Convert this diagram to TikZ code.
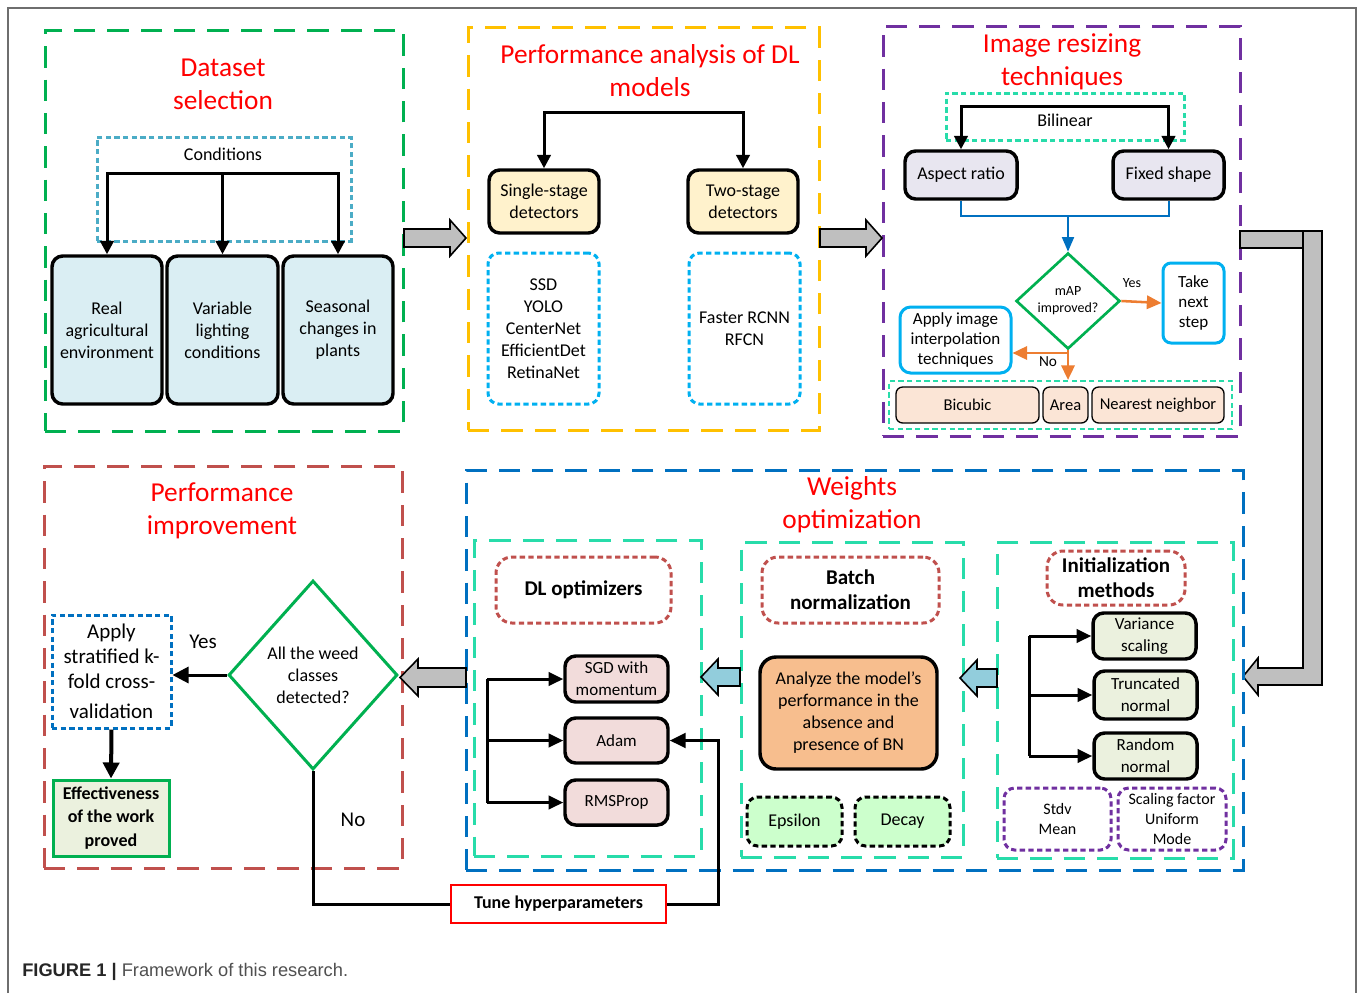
\documentclass[tikz,border=0pt]{standalone}
\usepackage{fontspec}
\setmainfont{Carlito}
\newfontfamily\capfont{Liberation Sans}
\usetikzlibrary{arrows.meta,shapes.geometric}
\definecolor{cGreen}{HTML}{00B050}
\definecolor{cYellow}{HTML}{FFC000}
\definecolor{cPurple}{HTML}{7030A0}
\definecolor{cBrick}{HTML}{C0504D}
\definecolor{cBlue}{HTML}{0070C0}
\definecolor{cTeal}{RGB}{40,220,170}
\definecolor{cCond}{HTML}{4BACC6}
\definecolor{cCyan}{HTML}{00B0F0}
\definecolor{cTitle}{HTML}{FF0000}
\definecolor{fBlue}{HTML}{DAEEF3}
\definecolor{fYellow}{HTML}{FFF2CC}
\definecolor{fLav}{RGB}{232,230,240}
\definecolor{fPeach}{HTML}{FBE5D6}
\definecolor{fGreen}{HTML}{EBF1DE}
\definecolor{fPink}{HTML}{F2DCDB}
\definecolor{fOrange}{RGB}{247,190,142}
\definecolor{fMint}{HTML}{CCFFCC}
\definecolor{fGray}{HTML}{BFBFBF}
\definecolor{fSky}{HTML}{92CDDC}
\definecolor{cOrange}{HTML}{ED7D31}
\definecolor{cFrame}{RGB}{110,110,110}
\definecolor{cCap}{RGB}{80,80,80}
\newcommand\myTitle{\fontsize{20.5}{24.75}\selectfont}
\newcommand\myNorm{\fontsize{13.5}{16.5}\selectfont}
\newcommand\myMid{\fontsize{12.75}{16.5}\selectfont}
\newcommand\myTake{\fontsize{12.75}{15.25}\selectfont}
\newcommand\mySmall{\fontsize{12.4}{15}\selectfont}
\newcommand\myBold{\fontsize{15.75}{19}\selectfont\bfseries}
\newcommand\myBoldS{\fontsize{13.5}{17.5}\selectfont\bfseries}
\newcommand\myTiny{\fontsize{10.5}{12.75}\selectfont}
\newcommand\myBig{\fontsize{15.75}{18.75}\selectfont}
\newcommand\myStdv{\fontsize{12}{15}\selectfont}
\newcommand\bx[7][]{%
  \node[inner sep=0pt, align=center, minimum width={(#5-#3)*0.75pt},
        minimum height={(#6-#4)*0.75pt}, #1] (#2) at ({(#3+#5)/2},{(#4+#6)/2}) {#7};}
\begin{document}
\begin{tikzpicture}[x=0.75pt,y=-0.75pt,
  >={Triangle[length=9pt,width=9pt]},
  every node/.style={inner sep=0pt, align=center},
  conn/.style={line width=2.25pt, black},
  grpd/.style={draw, line width=2.25pt, dash pattern=on 16pt off 9pt},
  dotd/.style={draw, line width=2.25pt, dash pattern=on 4pt off 2.5pt},
  solidbox/.style={draw, line width=2.6pt, rounded corners=8pt},
  thinbox/.style={draw, line width=1pt, rounded corners=5pt},
  title/.style={text=cTitle, font=\myTitle},
  blockarrow/.style={draw, line width=1.2pt, line join=miter},
  orng/.style={draw=cOrange, line width=1.9pt, >={Triangle[length=11pt,width=10pt]}},
]
\useasboundingbox (0,0) rectangle (1358,993);
% outer frame
\draw[cFrame, line width=1.2pt] (8,993) -- (8,8) -- (1356,8) -- (1356,993);

% ---------- Panel 1: Dataset selection
\bx[grpd, draw=cGreen]{g1}{45}{30}{403}{431}{}
\node[title] (t1) at (223,84) {Dataset\\selection};
\bx[dotd, draw=cCond]{gcond}{97}{137}{351}{241}{}
\node[font=\myNorm] (cond) at (223,154) {Conditions};
\bx[solidbox, fill=fBlue, font=\myNorm]{r1}{52}{256}{162}{404}{Real\\agricultural\\environment}
\bx[solidbox, fill=fBlue, font=\myNorm]{r2}{167}{256}{278}{404}{Variable\\lighting\\conditions}
\bx[solidbox, fill=fBlue, font=\myNorm]{r3}{283}{256}{393}{404}{Seasonal\\changes in\\plants}
\coordinate (cbar) at (222.5,173);
\draw[conn,<->,>={Triangle[length=10pt,width=10pt]}] (r1.north) |- (cbar) -| (r3.north);
\draw[conn,->,>={Triangle[length=10pt,width=10pt]}] (cbar) -- (r2.north);

% ---------- Panel 2: Performance analysis
\bx[grpd, draw=cYellow]{g2}{468}{27}{819}{430}{}
\node[title] (t2) at (650,71) {Performance analysis of DL\\models};
\bx[solidbox, fill=fYellow, font=\myNorm]{ss}{489}{170}{599}{233}{Single-stage\\detectors}
\bx[solidbox, fill=fYellow, font=\myNorm]{ts}{688}{170}{798}{233}{Two-stage\\detectors}
\coordinate (pbar) at (643,112);
\draw[conn,<->,>={Triangle[length=10pt,width=10pt]}] (ss.north) |- (pbar) -| (ts.north);
\bx[dotd, draw=cCyan, rounded corners=8pt, font=\myNorm]{sl}{488}{253}{599}{404}{SSD\\YOLO\\CenterNet\\EfficientDet\\RetinaNet}
\bx[dotd, draw=cCyan, rounded corners=8pt, font=\myNorm]{tl}{689}{253}{800}{404}{Faster RCNN\\RFCN}

% ---------- Panel 3: Image resizing
\bx[grpd, draw=cPurple]{g3}{883}{26}{1240}{436}{}
\node[title] (t3) at (1062,62) {Image resizing\\techniques};
\bx[dotd, draw=cTeal]{gbil}{946}{93}{1184}{140}{}
\node[font=\myNorm] (bil) at (1065,120) {Bilinear};
\bx[solidbox, fill=fLav, font=\myNorm]{ar}{905}{151}{1017}{199}{Aspect ratio}
\bx[solidbox, fill=fLav, font=\myNorm]{fs}{1113}{151}{1224}{199}{Fixed shape}
\coordinate (bbar) at (1065,106);
\draw[conn,<->,>={Triangle[length=10pt,width=10pt]}] (ar.north) |- (bbar) -| (fs.north);
\node[diamond, draw=cGreen, line width=2pt, minimum width=78pt, minimum height=72pt, font=\myTiny] (map) at (1068,301) {mAP\\improved?};
\coordinate (bj) at (1068,216);
\draw[cBlue, line width=1.5pt] (ar.south) |- (bj) -| (fs.south);
\draw[cBlue, line width=1.5pt, ->, >={Triangle[length=11pt,width=9pt]}] (bj) -- (map.north);
\bx[draw=cCyan, line width=2.25pt, rounded corners=6pt, font=\myTake]{take}{1163}{263}{1224}{343}{Take\\next\\step}
\bx[draw=cCyan, line width=2.25pt, rounded corners=8pt, font=\myTake]{apply}{900}{307}{1011}{373}{Apply image\\interpolation\\techniques}
\bx[dotd, draw=cTeal, line width=1.6pt]{interp}{889}{381}{1232}{429}{}
\bx[thinbox, fill=fPeach, font=\mySmall]{bic}{896}{387}{1039}{423}{Bicubic}
\bx[thinbox, fill=fPeach, font=\mySmall]{area}{1043}{387}{1088}{423}{Area}
\bx[thinbox, fill=fPeach, font=\mySmall]{nn}{1092}{387}{1224}{423}{Nearest neighbor}
\draw[orng, ->] (map.east) -- (take.west);
\coordinate (oj) at (1068,353);
\draw[orng] (map.south) -- (oj);
\draw[orng, ->] (oj) -- (oj -| apply.east);
\draw[orng, ->] (oj) -- (oj |- interp.north);
\node[font=\myTiny] (yes1) at (1132,283) {Yes};
\node[font=\fontsize{11.5}{13}\selectfont] (no1) at (1048,362) {No};
% big gray L arrow
\draw[blockarrow, fill=fGray] (1240,231) -- (1322,231) -- (1322,685) -- (1258,685) -- (1258,695) -- (1243,676.5) -- (1258,658) -- (1258,668) -- (1303,668) -- (1303,248) -- (1240,248) -- cycle;
\draw[line width=1.2pt] (1303,231) -- (1303,248);

% top gray arrows
\draw[blockarrow, fill=fGray] (404,229) -- (450,229) -- (450,220) -- (466,238) -- (450,256) -- (450,247) -- (404,247) -- cycle;
\draw[blockarrow, fill=fGray] (820,229) -- (866,229) -- (866,220) -- (882,238) -- (866,256) -- (866,247) -- (820,247) -- cycle;

% ---------- Panel 5: Weights optimization
\bx[grpd, draw=cBlue]{g5}{466}{470}{1243}{870}{}
\node[title] (t5) at (852,505) {Weights\\optimization};
\bx[grpd, draw=cTeal]{g5a}{474}{540}{701}{856}{}
\bx[grpd, draw=cTeal]{g5b}{741}{542}{963}{857}{}
\bx[grpd, draw=cTeal]{g5c}{997}{542}{1233}{858}{}

\bx[dotd, draw=cBrick, rounded corners=12pt, font=\myBold]{dlo}{496}{557}{671}{623}{DL optimizers}
\bx[solidbox, fill=fPink, font=\myMid]{sgd}{565}{656}{668}{702}{SGD with\\momentum}
\bx[solidbox, fill=fPink, font=\myMid]{adam}{565}{718}{668}{763}{Adam}
\bx[solidbox, fill=fPink, font=\myMid]{rms}{565}{780}{668}{825}{RMSProp}
\coordinate (ov) at (487,741);
\draw[conn] (ov |- sgd.west) -- (ov |- rms.west);
\draw[conn,->,>={Triangle[length=11pt,width=10pt]}] (ov |- sgd.west) -- (sgd.west);
\draw[conn,->,>={Triangle[length=11pt,width=10pt]}] (ov |- adam.west) -- (adam.west);
\draw[conn,->,>={Triangle[length=11pt,width=10pt]}] (ov |- rms.west) -- (rms.west);

\bx[dotd, draw=cBrick, rounded corners=12pt, font=\myBold]{bn}{762}{557}{939}{623}{Batch\\normalization}
\bx[solidbox, fill=fOrange, rounded corners=12pt, font=\myNorm]{anl}{760}{657}{937}{769}{Analyze the model’s\\performance in the\\absence and\\presence of BN}
\bx[dotd, draw=black, fill=fMint, rounded corners=8pt, font=\myNorm]{eps}{747}{797}{842}{846}{Epsilon}
\bx[dotd, draw=black, fill=fMint, rounded corners=8pt, font=\myNorm]{dec}{855}{797}{950}{846}{Decay}

\bx[dotd, draw=cBrick, rounded corners=12pt, font=\myBold]{init}{1047}{551}{1185}{605}{Initialization\\methods}
\bx[solidbox, fill=fGreen, font=\myMid]{vs}{1093}{613}{1196}{659}{Variance\\scaling}
\bx[solidbox, fill=fGreen, font=\myMid]{tn}{1094}{671}{1197}{719}{Truncated\\normal}
\bx[solidbox, fill=fGreen, font=\myMid]{rn}{1094}{733}{1197}{779}{Random\\normal}
\coordinate (iv) at (1029,695);
\draw[conn] (iv |- vs.west) -- (iv |- rn.west);
\draw[conn,->,>={Triangle[length=11pt,width=10pt]}] (iv |- vs.west) -- (vs.west);
\draw[conn,->,>={Triangle[length=11pt,width=10pt]}] (iv |- tn.west) -- (tn.west);
\draw[conn,->,>={Triangle[length=11pt,width=10pt]}] (iv |- rn.west) -- (rn.west);
\bx[dotd, draw=cPurple, rounded corners=8pt, font=\myStdv]{sm}{1004}{788}{1111}{850}{Stdv\\Mean}
\bx[dotd, draw=cPurple, rounded corners=8pt, font=\myStdv]{sf}{1118}{788}{1226}{850}{Scaling factor\\Uniform\\Mode}

% light blue block arrows
\draw[blockarrow, fill=fSky] (740,668) -- (718,668) -- (718,659) -- (701,677) -- (718,695) -- (718,686) -- (740,686) -- cycle;
\draw[blockarrow, fill=fSky] (997,669) -- (977,669) -- (977,660) -- (960,678) -- (977,696) -- (977,687) -- (997,687) -- cycle;

% ---------- Panel 4: Performance improvement
\bx[grpd, draw=cBrick]{g4}{44}{466}{402}{868}{}
\node[title] (t4) at (222,511) {Performance\\improvement};
\bx[dotd, draw=cBlue, font=\myBig]{strat}{52}{615}{171}{728}{Apply\\stratified k-\\fold cross-\\[4pt]validation}
\bx[draw=cGreen, line width=2.25pt, fill=fGreen, font=\myBoldS]{eff}{53}{780}{169}{856}{Effectiveness\\of the work\\proved}
\node[diamond, draw=cGreen, line width=2.25pt, minimum width=126.75pt, minimum height=141.75pt, font=\myNorm] (weed) at (313,675) {All the weed\\classes\\detected?};
\draw[conn,->,>={Triangle[length=12pt,width=12pt]}] (weed.west) -- (weed.west -| strat.east);
\draw[line width=3pt,->,>={Triangle[length=12pt,width=12pt]}] (strat.south) -- (eff.north);
\node[font=\myBig] (yes2) at (203,642) {Yes};
\node[font=\myBig] (no2) at (353,820) {No};
\bx[draw=red, line width=1.5pt, fill=white, font=\myBoldS]{tune}{451}{885}{666}{923}{Tune hyperparameters}
\draw[conn] (weed.south) |- (tune.west);
\draw[conn,->,>={Triangle[length=12pt,width=11pt]}] (tune.east) -- ++(51,0) |- (adam.east);
% bottom gray arrow
\draw[blockarrow, fill=fGray] (466,668) -- (418,668) -- (418,659) -- (400,677.5) -- (418,696) -- (418,687) -- (466,687) -- cycle;

% caption
\node[anchor=west, font=\capfont\fontsize{13.7}{16}\selectfont, text=cCap] (cap) at (22,972) {{\bfseries\color{black!85}FIGURE 1 |} Framework of this research.};
\end{tikzpicture}
\end{document}
